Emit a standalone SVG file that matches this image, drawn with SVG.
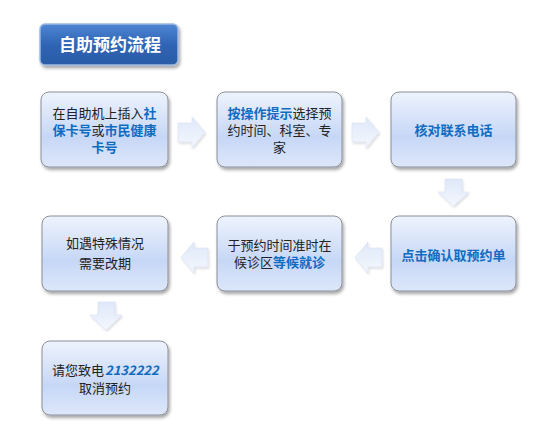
<svg xmlns="http://www.w3.org/2000/svg" width="558" height="425" viewBox="0 0 558 425">
<defs>
<linearGradient id="boxg" x1="0" y1="0" x2="0" y2="1">
<stop offset="0" stop-color="#eef3fd"/>
<stop offset="0.6" stop-color="#c6d7f6"/>
<stop offset="1" stop-color="#dde7fa"/>
</linearGradient>
<linearGradient id="arrg" x1="0" y1="0" x2="0" y2="1">
<stop offset="0" stop-color="#dfe8f9"/>
<stop offset="1" stop-color="#f4f7fd"/>
</linearGradient>
<linearGradient id="titleg" x1="0" y1="0" x2="0" y2="1">
<stop offset="0" stop-color="#4f86d4"/>
<stop offset="0.5" stop-color="#2f65b5"/>
<stop offset="1" stop-color="#2a5ba6"/>
</linearGradient>
<filter id="sh" x="-10%" y="-10%" width="125%" height="130%">
<feDropShadow dx="1.5" dy="2.5" stdDeviation="1.5" flood-color="#000" flood-opacity="0.35"/>
</filter>
<filter id="ash" x="-20%" y="-20%" width="150%" height="150%">
<feDropShadow dx="1" dy="1.5" stdDeviation="1" flood-color="#000" flood-opacity="0.15"/>
</filter>
</defs>
<style>
.box{fill:url(#boxg);stroke:#8a8f99;stroke-width:1;filter:url(#sh)}
.arr{fill:url(#arrg);stroke:#d0daf0;stroke-width:0.5;filter:url(#ash)}
text{font-family:"Noto Sans CJK SC","Noto Sans",sans-serif;font-size:13px;fill:#222;text-anchor:middle}
.s{text-anchor:start}
.b{fill:#0f6cc2;font-weight:bold}
.t{fill:#fff;font-weight:bold;font-size:17px}
</style>
<rect width="558" height="425" fill="#fff"/>
<g id="title">
<rect x="40" y="24" width="138" height="41" rx="5" fill="url(#titleg)" stroke="#9fb8e0" stroke-width="1.5" filter="url(#sh)"/>
<text class="t" x="110" y="51">自助预约流程</text>
</g>
<g id="connectors">
<polygon class="arr" points="178,123 192,123 192,117 205,132.5 192,148 192,142 178,142"/>
<polygon class="arr" points="352,123 366,123 366,117 379,132.5 366,148 366,142 352,142"/>
<polygon class="arr" points="445,179 462,179 462,192 469,192 453.5,206 438,192 445,192"/>
<polygon class="arr" points="382,248 368,248 368,242 355,257.5 368,273 368,267 382,267"/>
<polygon class="arr" points="208,248 194,248 194,242 181,257.5 194,273 194,267 208,267"/>
<polygon class="arr" points="98,302 115,302 115,315 122,315 106,330 90,315 98,315"/>
</g>
<g id="n1">
<rect class="box" x="41" y="92" width="127" height="75" rx="8"/>
<text class="s" x="52.5" y="118">在自助机上插入</text>
<text class="s b" x="143.5" y="118">社</text>
<text class="s b" x="52.5" y="135">保卡号</text>
<text class="s" x="91.5" y="135">或</text>
<text class="s b" x="104.5" y="135">市民健康</text>
<text class="b" x="104.5" y="152">卡号</text>
</g>
<g id="n2">
<rect class="box" x="217" y="92" width="125" height="75" rx="8"/>
<text class="s b" x="227.5" y="118">按操作提示</text>
<text class="s" x="292.5" y="118">选择预</text>
<text x="279.5" y="135">约时间、科室、专</text>
<text x="279.5" y="152">家</text>
</g>
<g id="n3">
<rect class="box" x="391" y="92" width="125" height="75" rx="8"/>
<text class="b" x="453.5" y="135">核对联系电话</text>
</g>
<g id="n4">
<rect class="box" x="391" y="216" width="125" height="75" rx="8"/>
<text class="b" x="453.5" y="260">点击确认取预约单</text>
</g>
<g id="n5">
<rect class="box" x="217" y="216" width="125" height="75" rx="8"/>
<text x="279.5" y="250">于预约时间准时在</text>
<text class="s" x="234" y="267">候诊区</text>
<text class="s b" x="273" y="267">等候就诊</text>
</g>
<g id="n6">
<rect class="box" x="42" y="216" width="126" height="75" rx="8"/>
<text x="105" y="248">如遇特殊情况</text>
<text x="105" y="268">需要改期</text>
</g>
<g id="n7">
<rect class="box" x="42" y="341" width="126" height="74" rx="8"/>
<text class="s" x="52" y="375">请您致电</text>
<text class="s b" x="105" y="375" font-style="italic">2132222</text>
<text x="105" y="393">取消预约</text>
</g>
</svg>
